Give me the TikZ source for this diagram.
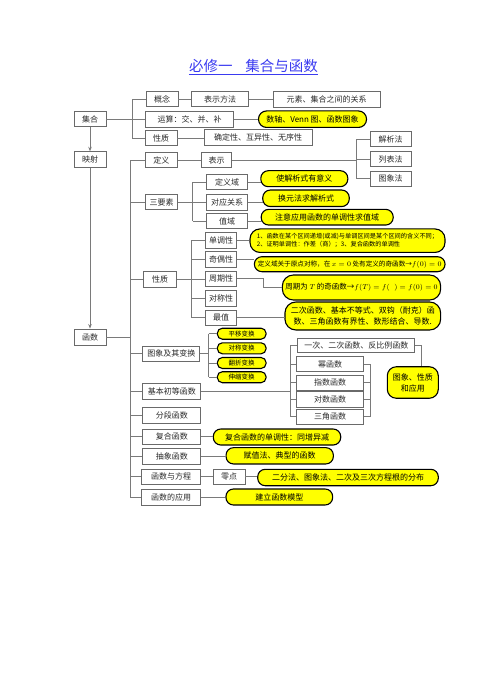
\documentclass[tikz,border=0pt]{standalone}
\usepackage{fontspec}
\setmainfont{Noto Sans CJK SC}
\usetikzlibrary{arrows.meta}
\definecolor{lc}{HTML}{7A7A7A}
\definecolor{bc}{HTML}{6A6A6A}
\definecolor{tc}{HTML}{2A2A2A}
\definecolor{ttl}{HTML}{3A3AF0}
\definecolor{yel}{HTML}{FFFF00}
\newcommand\fsz[2]{\fontsize{#1pt}{#2pt}\selectfont}
\tikzset{
  box/.style={draw=bc, fill=white, line width=0.9pt, inner sep=1pt, text=tc, font=\fsz{8}{10}},
  ybox/.style={draw=black, fill=yel, line width=1.1pt, inner sep=1pt, text=black, font=\fsz{8}{10}, rounded corners=7.5pt},
  sz/.style 2 args={minimum width=#1pt, minimum height=#2pt},
  conn/.style={draw=lc, line width=0.9pt},
  arr/.style={conn, -{Stealth[length=4.5pt,width=3.5pt]}},
}
\begin{document}
\begin{tikzpicture}[x=1pt,y=-1pt]
\path[use as bounding box] (0,0) rectangle (500,692);
% title
\node[inner sep=0pt, text=ttl, font=\fsz{14.5}{16}] (title) at (253.5,66) {必修一\hspace{13pt}集合与函数};
\draw[ttl, line width=0.8pt] ([yshift=-2.5pt]title.base west) -- ([yshift=-2.5pt]title.base east);
% set part
\node[box,sz={32}{15}] (gn) at (162,99.3) {概念};
\node[box,sz={57}{15}] (bsff) at (220,99.3) {表示方法};
\node[box,sz={107}{16}] (ysgx) at (326.5,99) {元素、集合之间的关系};
\node[box,sz={32}{15}] (jh) at (90,119) {集合};
\node[box,sz={88}{16}] (yx) at (189.5,119) {运算：交、并、补};
\node[ybox,sz={108}{16.5},rounded corners=8pt] (y1) at (312.5,119.2) {数轴、Venn 图、函数图象};
\node[box,sz={32}{15}] (xz1) at (161,138) {性质};
\node[box,sz={108}{16}] (qd) at (258,137.5) {确定性、互异性、无序性};
% mapping
\node[box,sz={32}{15.5}] (ms) at (90,159.5) {映射};
\node[box,sz={32}{15}] (dy) at (161.3,160.2) {定义};
\node[box,sz={30}{15}] (bs) at (216.7,160.2) {表示};
\node[box,sz={41}{15}] (jxf) at (390.5,139.2) {解析法};
\node[box,sz={41}{15}] (lbf) at (390.5,159.2) {列表法};
\node[box,sz={41}{15}] (txf) at (390.5,178.5) {图象法};
\node[box,sz={32}{15.5}] (sys) at (161.5,202.2) {三要素};
\node[box,sz={41}{15.5}] (dyy) at (227.2,182.2) {定义域};
\node[box,sz={41}{16}] (dygx) at (227.2,202) {对应关系};
\node[box,sz={41}{15.5}] (zy) at (227.2,221.2) {值域};
\node[ybox,sz={87}{16}] (y2) at (304.3,178.7) {使解析式有意义};
\node[ybox,sz={86.5}{16.5}] (y3) at (306,198.3) {换元法求解析式};
\node[ybox,sz={132}{15.7}] (y4) at (327.2,217.2) {注意应用函数的单调性求值域};
% properties
\node[box,sz={33}{15.5}] (xz2) at (160,279.5) {性质};
\node[box,sz={31}{15.5}] (ddx) at (221.2,240.5) {单调性};
\node[box,sz={31}{15.5}] (qox) at (221.2,259.5) {奇偶性};
\node[box,sz={31}{15.5}] (zqx) at (221.2,278.8) {周期性};
\node[box,sz={31}{15.5}] (dcx) at (221.2,298.3) {对称性};
\node[box,sz={31}{15}] (zz) at (221.2,317.5) {最值};
\node[ybox,sz={195}{23.5},rounded corners=10pt,align=left,font=\fsz{6.2}{8.2}] (y5) at (347.5,240.7) {1、函数在某个区间递增(或减)与单调区间是某个区间的含义不同；\\2、证明单调性：作差（商）；3、复合函数的单调性};
\node[ybox,sz={190.7}{15},font=\fsz{6.6}{8}] (y6) at (349.7,264.2) {定义域关于原点对称，在 $x=0$ 处有定义的奇函数→$f(0)=0$};
\node[ybox,sz={158.3}{25},rounded corners=11pt,font=\fsz{7.5}{9}] (y7) at (361.5,287.5) {\raisebox{-5pt}{周期为 $T$ 的奇函数→$f(T)=f(\;\;)=f(0)=0$}};
\node[ybox,sz={155.7}{28},rounded corners=11pt,align=center,font=\fsz{8}{10.5}] (y8) at (362.8,316) {二次函数、基本不等式、双钩（耐克）函\\数、三角函数有界性、数形结合、导数.};
% functions
\node[box,sz={32}{16}] (hs) at (90,337) {函数};
\node[box,sz={57}{15}] (tx) at (171.3,353.5) {图象及其变换};
\node[ybox,sz={48.7}{11},rounded corners=5pt,font=\fsz{6.5}{8}] (y9) at (241.7,333.7) {平移变换};
\node[ybox,sz={48.7}{11},rounded corners=5pt,font=\fsz{6.5}{8}] (y10) at (241.7,348.3) {对称变换};
\node[ybox,sz={48.7}{11},rounded corners=5pt,font=\fsz{6.5}{8}] (y11) at (241.7,363) {翻折变换};
\node[ybox,sz={48.7}{11},rounded corners=5pt,font=\fsz{6.5}{8}] (y12) at (241.7,377.2) {伸缩变换};
\node[box,sz={58}{15.5}] (jbcd) at (171.8,391.2) {基本初等函数};
\node[box,sz={117}{14}] (yc) at (356.3,345.3) {一次、二次函数、反比例函数};
\node[box,sz={66.5}{15}] (mhs) at (330,364.2) {幂函数};
\node[box,sz={66.5}{15}] (zs) at (330,382.5) {指数函数};
\node[box,sz={66.5}{15.5}] (ds) at (330,399.5) {对数函数};
\node[box,sz={66.5}{15}] (sj) at (330,416.8) {三角函数};
\node[ybox,sz={51}{31.5},rounded corners=9pt,align=center,font=\fsz{8}{11}] (y13) at (412.8,382.5) {图象、性质\\和应用};
\node[box,sz={58}{15.5}] (fd) at (171.8,415.5) {分段函数};
\node[box,sz={58}{15}] (fh) at (171.8,436.5) {复合函数};
\node[ybox,sz={127.4}{16}] (y14) at (277,437) {复合函数的单调性：同增异减};
\node[box,sz={58}{15.5}] (cx) at (171.8,456.2) {抽象函数};
\node[ybox,sz={107.3}{16.3}] (y15) at (279.7,455.8) {赋值法、典型的函数};
\node[box,sz={59}{15}] (hsfc) at (171.2,476.8) {函数与方程};
\node[box,sz={31.5}{15}] (ld) at (229.2,476.8) {零点};
\node[ybox,sz={180.6}{16.4}] (y16) at (348,477.5) {二分法、图象法、二次及三次方程根的分布};
\node[box,sz={59}{15.5}] (hsyy) at (171.2,497.2) {函数的应用};
\node[ybox,sz={106.7}{16}] (y17) at (279.3,497) {建立函数模型};
% ---------- connectors ----------
\coordinate (tb) at (132,0);
\draw[conn] (gn.west) -- (gn.west -| tb) -- (xz1.west -| tb) -- (xz1.west);
\draw[conn] (jh.east) -- (yx.west);
\draw[conn] (gn.east) -- (bsff.west);
\draw[conn] (bsff.east) -- (bsff.east -| ysgx.west);
\draw[conn] (yx.east) -- (yx.east -| y1.west);
\draw[conn] (xz1.east) -- (xz1.east -| qd.west);
\draw[arr] (jh.south) -- (ms.north);
\draw[arr] (ms.south) -- (hs.north);
% main trunk
\coordinate (tk) at (130,0);
\draw[conn] (dy.west -| tk) -- (hsyy.west -| tk);
\foreach \n in {dy,sys,xz2,tx,jbcd,fd,fh,cx,hsfc,hsyy} \draw[conn] (\n.west -| tk) -- (\n.west);
\draw[conn] (hs.east) -- (hs.east -| tk);
% definition
\draw[conn] (dy.east) -- (bs.west);
\coordinate (rb) at (356,0);
\draw[conn] (bs.east) -- (bs.east -| rb);
\draw[conn] (jxf.west -| rb) -- (txf.west -| rb);
\foreach \n in {jxf,lbf,txf} \draw[conn] (\n.west -| rb) -- (\n.west);
% three elements
\coordinate (sb) at (192.7,0);
\draw[conn] (sys.east) -- (sys.east -| dygx.west);
\draw[conn] (dyy.west -| sb) -- (zy.west -| sb);
\foreach \n in {dyy,zy} \draw[conn] (\n.west -| sb) -- (\n.west);
\draw[conn] (dyy.east) -- ([xshift=1pt]dyy.east -| y2.west);
\draw[conn] (dygx.east) -- ([xshift=0.5pt]dygx.east -| y3.west);
\draw[conn] (zy.east) -- ([xshift=1pt]zy.east -| y4.west);
% properties
\coordinate (xb) at (191.7,0);
\draw[conn] (xz2.east) -- (xz2.east -| zqx.west);
\draw[conn] (ddx.west -| xb) -- (zz.west -| xb);
\foreach \n in {ddx,qox,dcx,zz} \draw[conn] (\n.west -| xb) -- (\n.west);
\draw[conn] (ddx.east) -- (ddx.east -| y5.west);
\draw[conn] (qox.east) -- (qox.east -| y6.west);
\coordinate (zqk) at (263.3,0);
\draw[conn] (zqx.east) -- (zqx.east -| zqk) |- (y7.west);
\draw[conn] (zz.east) -- ([xshift=1pt]zz.east -| y8.west);
% graph transforms
\coordinate (gb) at (208.8,0);
\draw[conn] (tx.east) -- (tx.east -| gb);
\draw[conn] (y9.west -| gb) -- (y12.west -| gb);
\foreach \n in {y9,y10,y11,y12} \draw[conn] (\n.west -| gb) -- (\n.west);
% basic elementary functions
\coordinate (bb) at (290,0);
\draw[conn] (jbcd.east) -- (jbcd.east -| bb);
\draw[conn] (yc.west -| bb) -- (sj.west -| bb);
\foreach \n in {yc,mhs,zs,ds,sj} \draw[conn] (\n.west -| bb) -- (\n.west);
\coordinate (rb2) at (370,0);
\draw[conn] (mhs.east -| rb2) -- (sj.east -| rb2);
\foreach \n in {mhs,zs,ds,sj} \draw[conn] (\n.east) -- (\n.east -| rb2);
\coordinate (ycr) at (421.7,0);
\draw[conn] (yc.east) -- (yc.east -| ycr) -- (ycr |- y13.north);
% remaining
\draw[conn] (fh.east) -- (fh.east -| y14.west);
\draw[conn] (cx.east) -- (cx.east -| y15.west);
\draw[conn] (hsfc.east) -- (hsfc.east -| ld.west);
\draw[conn] (ld.east) -- (ld.east -| y16.west);
\draw[conn] (hsyy.east) -- (hsyy.east -| y17.west);
\end{tikzpicture}
\end{document}
